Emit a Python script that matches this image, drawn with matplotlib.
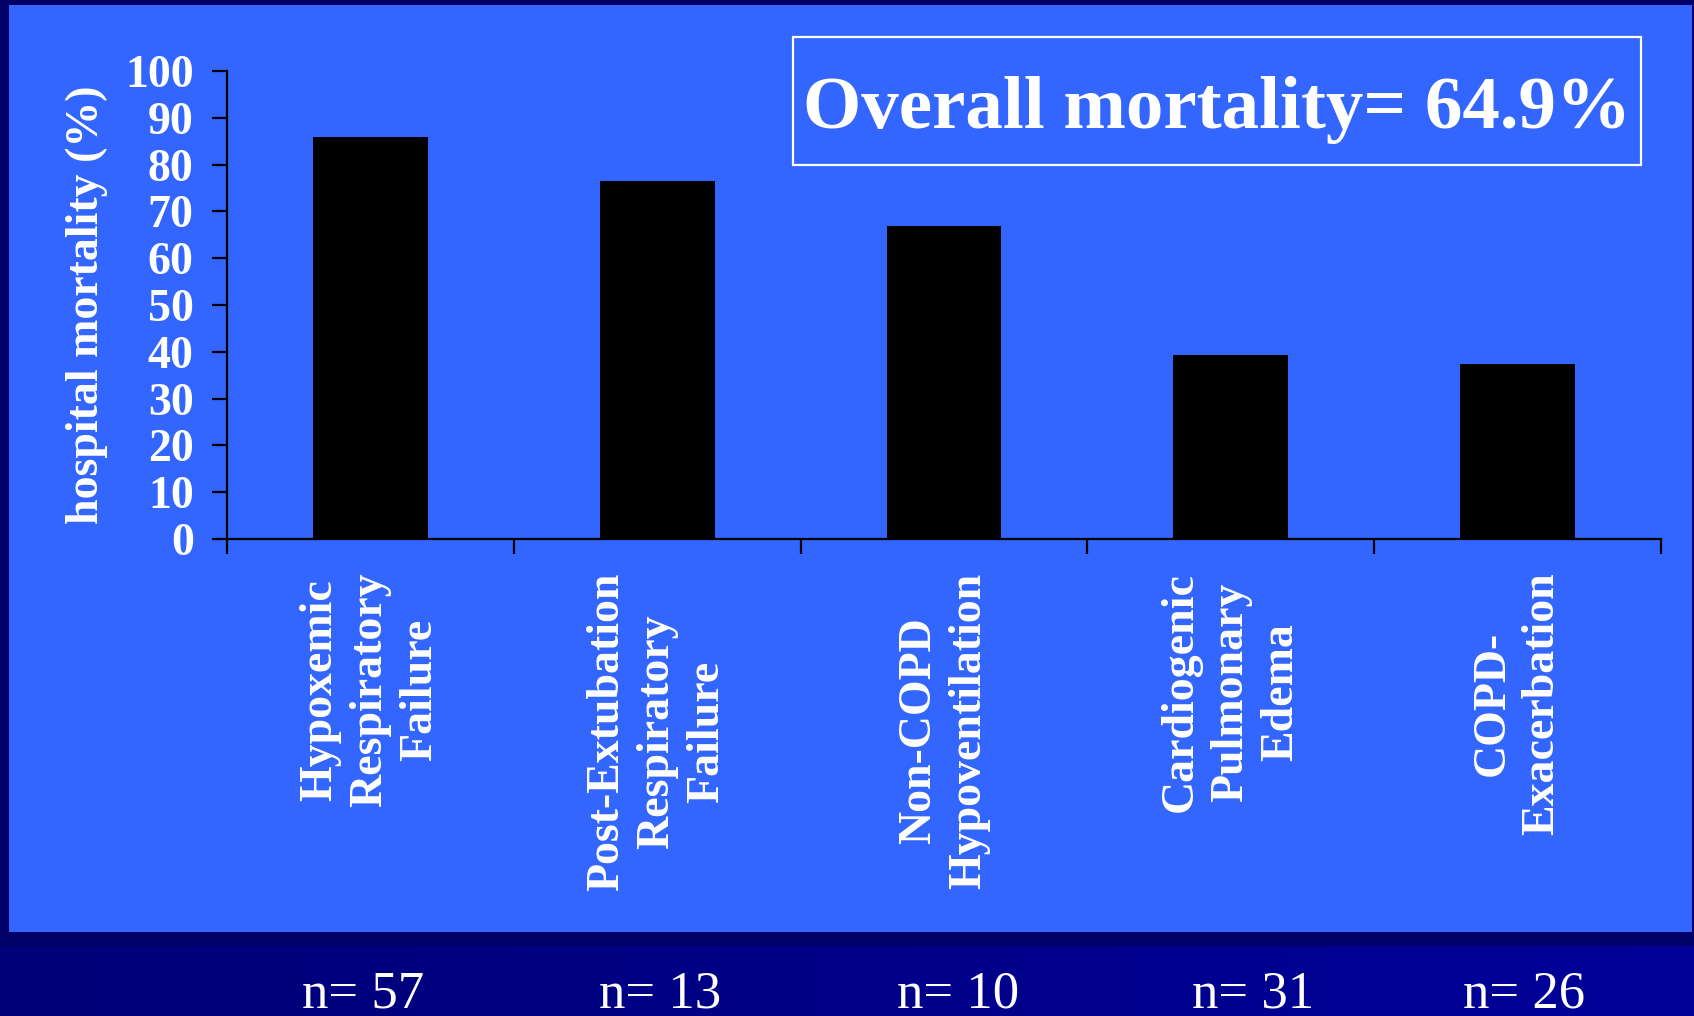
import numpy as np
import matplotlib.pyplot as plt
from matplotlib.patches import Rectangle
from matplotlib.colors import LinearSegmentedColormap

plt.rcParams['font.family'] = ['Liberation Serif', 'DejaVu Serif']

categories = ["Hypoxemic\nRespiratory\nFailure",
              "Post-Extubation\nRespiratory\nFailure",
              "Non-COPD\nHypoventilation",
              "Cardiogenic\nPulmonary\nEdema",
              "COPD-\nExacerbation"]
mortality = [85.9, 76.6, 66.9, 39.4, 37.4]
n_patients = [57, 13, 10, 31, 26]
overall = 64.9
y_ticks = list(range(0, 101, 10))

W, H = 1694, 1016
# horizontal centres (px) of the "n=" captions under the panel
n_label_px = [363, 660, 958, 1253, 1524]

fig = plt.figure(figsize=(W / 100, H / 100), dpi=100)
fig.patch.set_facecolor('#000066')

# navy slide background, a bit lighter towards the bottom right
bg = fig.add_axes([0, 0, 1, 1], zorder=-10)
bg.set_axis_off()
grad = np.linspace(0, 1, 256).reshape(1, -1)
navy = LinearSegmentedColormap.from_list('navy', ['#000078', '#000099'])
bg.imshow(grad, cmap=navy, aspect='auto', extent=[0, 1, 0, 1 - 946 / H])
bg.set_xlim(0, 1)
bg.set_ylim(0, 1)

# blue content panel
bg.add_patch(Rectangle((9 / W, 1 - 932 / H), (1692 - 9) / W, (932 - 5) / H,
                       facecolor='#3366FF', edgecolor='none', zorder=5))

ax = fig.add_axes([227 / W, 1 - 539 / H, (1661 - 227) / W, (539 - 71) / H])
ax.set_facecolor('none')
x = np.arange(len(categories))
ax.bar(x, mortality, width=0.4, color='black', zorder=3)

ax.set_xlim(-0.5, len(categories) - 0.5)
ax.set_ylim(0, 100)
ax.set_yticks(y_ticks)
ax.set_xticks(x)
ax.set_xticks(np.arange(len(categories) + 1) - 0.5, minor=True)
ax.set_xticklabels(categories, rotation=90, va='top', ha='center',
                   multialignment='center', linespacing=1.25)

for s in ['top', 'right']:
    ax.spines[s].set_visible(False)
for s in ['left', 'bottom']:
    ax.spines[s].set_linewidth(1.6)
    ax.spines[s].set_color('black')

ax.tick_params(axis='x', which='major', length=0, pad=24, labelsize=33, labelcolor='white')
ax.tick_params(axis='x', which='minor', length=11, width=1.6, direction='out', color='black')
ax.tick_params(axis='y', length=11, width=1.6, direction='out', color='black',
               pad=13, labelsize=33, labelcolor='white')
for lbl in ax.get_xticklabels() + ax.get_yticklabels():
    lbl.set_fontweight('bold')

ax.set_ylabel('hospital mortality (%)', fontsize=33, fontweight='bold', color='white', va='center')
ax.yaxis.set_label_coords(-0.098, 0.5)

# overall mortality box
ax.add_patch(Rectangle((793 / W, 1 - 165 / H), (1641 - 793) / W, (165 - 37) / H,
                       transform=fig.transFigure, facecolor='none',
                       edgecolor='white', linewidth=1.6, clip_on=False))
fig.text(1217 / W, 1 - 128 / H, 'Overall mortality= %.1f%%' % overall,
         ha='center', va='baseline', fontsize=54, fontweight='bold', color='white')

# group sizes under the panel
for px, n in zip(n_label_px, n_patients):
    fig.text(px / W, 1 - 1007 / H, 'n= %d' % n, ha='center', va='baseline',
             fontsize=38, color='white')

fig.savefig('out.png', dpi=100, facecolor=fig.get_facecolor())
